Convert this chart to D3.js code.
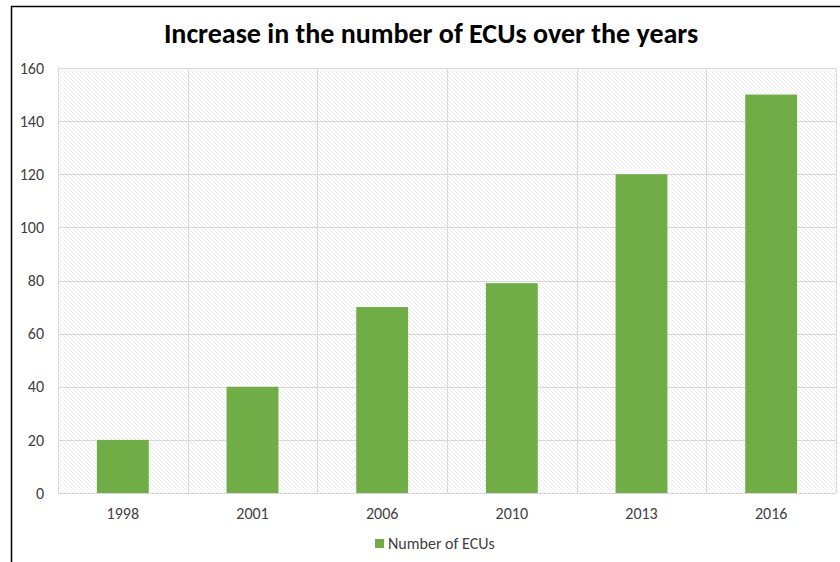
<!DOCTYPE html>
<html>
<head>
<meta charset="utf-8">
<script src="https://cdn.jsdelivr.net/npm/d3@7"></script>
<style>
  body { margin: 0; background: #fff; }
  svg { display: block; font-family: Carlito, "Open Sans", "Liberation Sans", sans-serif; }
</style>
</head>
<body>
<div id="chart"></div>
<script>
// data
var years = ["1998", "2001", "2006", "2010", "2013", "2016"];
var ecuCounts = [20, 40, 70, 79, 120, 150];
var yTicks = [0, 20, 40, 60, 80, 100, 120, 140, 160];

var W = 840, H = 562;
var margin = {left: 58, top: 68, right: 4, bottom: 69};

var svg = d3.select("#chart").append("svg")
  .attr("width", W)
  .attr("height", H);

// hatch pattern for plot background
var defs = svg.append("defs");
var pat = defs.append("pattern")
  .attr("id", "hatch")
  .attr("patternUnits", "userSpaceOnUse")
  .attr("width", 4).attr("height", 4);
pat.append("rect").attr("width", 4).attr("height", 4).attr("fill", "#fff");
pat.append("path")
  .attr("d", "M-1,-1 L5,5 M-1,3 L1,5 M3,-1 L5,1")
  .attr("stroke", "#ebebeb")
  .attr("stroke-width", 1);

// outer chart border (continues off the right/bottom edge)
svg.append("rect")
  .attr("x", 11.5).attr("y", 6.5)
  .attr("width", W + 20).attr("height", H + 20)
  .attr("fill", "none")
  .attr("stroke", "#000")
  .attr("stroke-width", 1.5);

var x = d3.scaleBand()
  .domain(years)
  .range([margin.left, W - margin.right])
  .paddingInner(0.6)
  .paddingOuter(0.3);

var y = d3.scaleLinear()
  .domain([0, 160])
  .range([H - margin.bottom, margin.top]);

var g = svg.append("g");

// plot background
g.append("rect")
  .attr("x", margin.left)
  .attr("y", margin.top)
  .attr("width", W - margin.right - margin.left)
  .attr("height", y(0) - margin.top)
  .attr("fill", "url(#hatch)");

// horizontal grid
g.selectAll("line.hgrid")
  .data(yTicks)
  .enter().append("line")
  .attr("class", "hgrid")
  .attr("x1", margin.left).attr("x2", W - margin.right)
  .attr("y1", function(d) { return Math.round(y(d)) + 0.5; })
  .attr("y2", function(d) { return Math.round(y(d)) + 0.5; })
  .attr("stroke", "#d9d9d9");

// vertical grid at category boundaries
var bounds = d3.range(years.length + 1).map(function(i) { return margin.left + i * (W - margin.right - margin.left) / years.length; });
g.selectAll("line.vgrid")
  .data(bounds)
  .enter().append("line")
  .attr("class", "vgrid")
  .attr("y1", margin.top).attr("y2", y(0))
  .attr("x1", function(d) { return Math.round(d) + 0.5; })
  .attr("x2", function(d) { return Math.round(d) + 0.5; })
  .attr("stroke", "#d9d9d9");

// bars
g.selectAll("rect.bar")
  .data(ecuCounts)
  .enter().append("rect")
  .attr("class", "bar")
  .attr("x", function(d, i) { return x(years[i]); })
  .attr("width", x.bandwidth())
  .attr("y", function(d) { return y(d); })
  .attr("height", function(d) { return y(0) - y(d); })
  .attr("fill", "#70ad47");

// axes
var yAxis = svg.append("g")
  .attr("transform", "translate(" + margin.left + ",0)")
  .call(d3.axisLeft(y).tickValues(yTicks).tickSize(0).tickPadding(14));
yAxis.select(".domain").remove();
yAxis.selectAll("text").attr("font-size", 16).attr("fill", "#404040")
  .attr("font-family", "Carlito, 'Open Sans', sans-serif");

var xAxis = svg.append("g")
  .attr("transform", "translate(0," + y(0) + ")")
  .call(d3.axisBottom(x).tickSize(0).tickPadding(15));
xAxis.select(".domain").remove();
xAxis.selectAll("text").attr("font-size", 16).attr("fill", "#404040")
  .attr("font-family", "Carlito, 'Open Sans', sans-serif");

// title
svg.append("text")
  .attr("x", 431).attr("y", 43)
  .attr("text-anchor", "middle")
  .attr("font-size", 28)
  .attr("font-weight", "bold")
  .attr("fill", "#000")
  .text("Increase in the number of ECUs over the years");

// legend
svg.append("rect")
  .attr("x", 375).attr("y", 539)
  .attr("width", 9).attr("height", 9)
  .attr("fill", "#70ad47");
svg.append("text")
  .attr("x", 388).attr("y", 549)
  .attr("font-size", 16)
  .attr("fill", "#404040")
  .text("Number of ECUs");
</script>
</body>
</html>
